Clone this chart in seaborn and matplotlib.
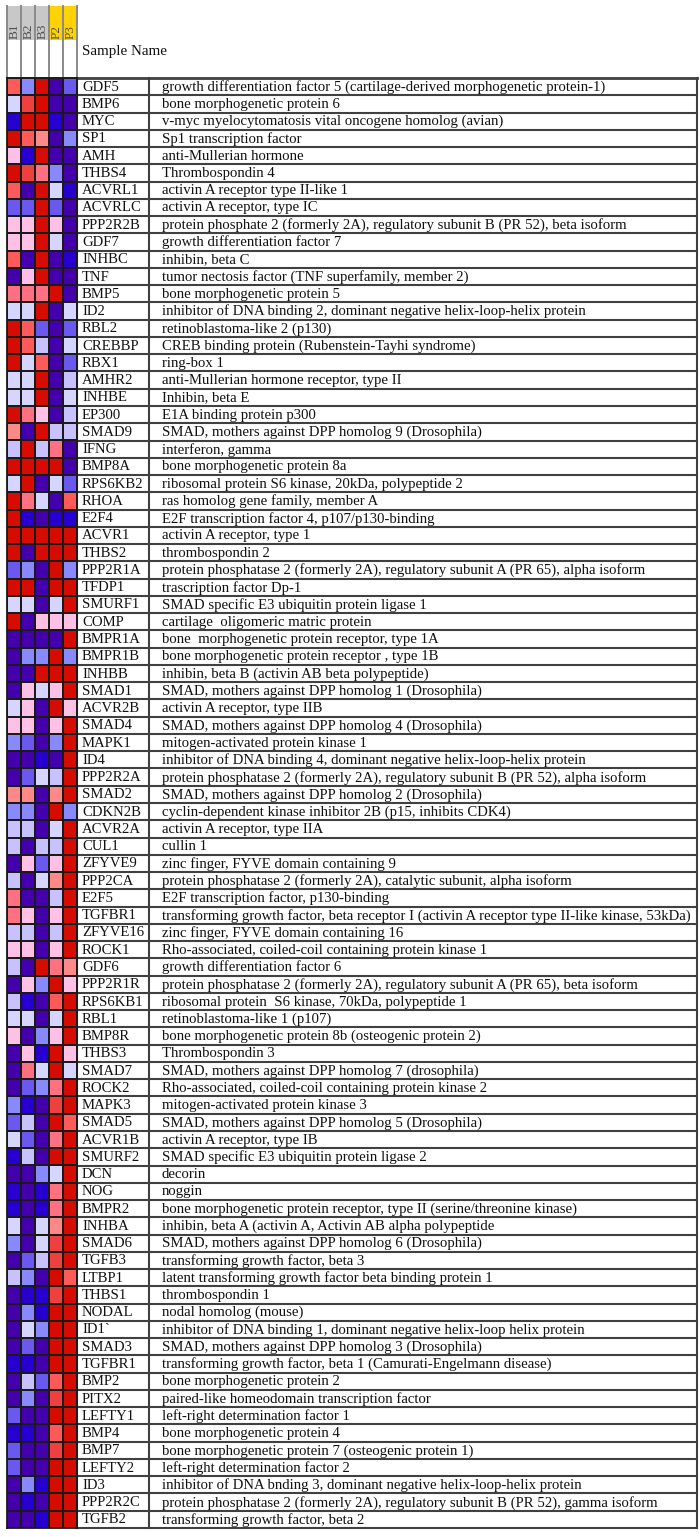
import numpy as np
import pandas as pd
import matplotlib
matplotlib.use("Agg")
import matplotlib.pyplot as plt
import seaborn as sns
from matplotlib.colors import ListedColormap
from matplotlib.patches import Rectangle

genes = ["GDF5", "BMP6", "MYC", "SP1", "AMH", "THBS4", "ACVRL1", "ACVRLC", "PPP2R2B", "GDF7",
         "INHBC", "TNF", "BMP5", "ID2", "RBL2", "CREBBP", "RBX1", "AMHR2", "INHBE", "EP300",
         "SMAD9", "IFNG", "BMP8A", "RPS6KB2", "RHOA", "E2F4", "ACVR1", "THBS2", "PPP2R1A", "TFDP1",
         "SMURF1", "COMP", "BMPR1A", "BMPR1B", "INHBB", "SMAD1", "ACVR2B", "SMAD4", "MAPK1", "ID4",
         "PPP2R2A", "SMAD2", "CDKN2B", "ACVR2A", "CUL1", "ZFYVE9", "PPP2CA", "E2F5", "TGFBR1", "ZFYVE16",
         "ROCK1", "GDF6", "PPP2R1R", "RPS6KB1", "RBL1", "BMP8R", "THBS3", "SMAD7", "ROCK2", "MAPK3",
         "SMAD5", "ACVR1B", "SMURF2", "DCN", "NOG", "BMPR2", "INHBA", "SMAD6", "TGFB3", "LTBP1",
         "THBS1", "NODAL", "ID1`", "SMAD3", "TGFBR1", "BMP2", "PITX2", "LEFTY1", "BMP4", "BMP7",
         "LEFTY2", "ID3", "PPP2R2C", "TGFB2"]

descriptions = [
    "growth differentiation factor 5 (cartilage-derived morphogenetic protein-1)",
    "bone morphogenetic protein 6",
    "v-myc myelocytomatosis vital oncogene homolog (avian)",
    "Sp1 transcription factor",
    "anti-Mullerian hormone",
    "Thrombospondin 4",
    "activin A receptor type II-like 1",
    "activin A receptor, type IC",
    "protein phosphate 2 (formerly 2A), regulatory subunit B (PR 52), beta isoform",
    "growth differentiation factor 7",
    "inhibin, beta C",
    "tumor nectosis factor (TNF superfamily, member 2)",
    "bone morphogenetic protein 5",
    "inhibitor of DNA binding 2, dominant negative helix-loop-helix protein",
    "retinoblastoma-like 2 (p130)",
    "CREB binding protein (Rubenstein-Tayhi syndrome)",
    "ring-box 1",
    "anti-Mullerian hormone receptor, type II",
    "Inhibin, beta E",
    "E1A binding protein p300",
    "SMAD, mothers against DPP homolog 9 (Drosophila)",
    "interferon, gamma",
    "bone morphogenetic protein 8a",
    "ribosomal protein S6 kinase, 20kDa, polypeptide 2",
    "ras homolog gene family, member A",
    "E2F transcription factor 4, p107/p130-binding",
    "activin A receptor, type 1",
    "thrombospondin 2",
    "protein phosphatase 2 (formerly 2A), regulatory subunit A (PR 65), alpha isoform",
    "trascription factor Dp-1",
    "SMAD specific E3 ubiquitin protein ligase 1",
    "cartilage  oligomeric matric protein",
    "bone  morphogenetic protein receptor, type 1A",
    "bone morphogenetic protein receptor , type 1B",
    "inhibin, beta B (activin AB beta polypeptide)",
    "SMAD, mothers against DPP homolog 1 (Drosophila)",
    "activin A receptor, type IIB",
    "SMAD, mothers against DPP homolog 4 (Drosophila)",
    "mitogen-activated protein kinase 1",
    "inhibitor of DNA binding 4, dominant negative helix-loop-helix protein",
    "protein phosphatase 2 (formerly 2A), regulatory subunit B (PR 52), alpha isoform",
    "SMAD, mothers against DPP homolog 2 (Drosophila)",
    "cyclin-dependent kinase inhibitor 2B (p15, inhibits CDK4)",
    "activin A receptor, type IIA",
    "cullin 1",
    "zinc finger, FYVE domain containing 9",
    "protein phosphatase 2 (formerly 2A), catalytic subunit, alpha isoform",
    "E2F transcription factor, p130-binding",
    "transforming growth factor, beta receptor I (activin A receptor type II-like kinase, 53kDa)",
    "zinc finger, FYVE domain containing 16",
    "Rho-associated, coiled-coil containing protein kinase 1",
    "growth differentiation factor 6",
    "protein phosphatase 2 (formerly 2A), regulatory subunit A (PR 65), beta isoform",
    "ribosomal protein  S6 kinase, 70kDa, polypeptide 1",
    "retinoblastoma-like 1 (p107)",
    "bone morphogenetic protein 8b (osteogenic protein 2)",
    "Thrombospondin 3",
    "SMAD, mothers against DPP homolog 7 (drosophila)",
    "Rho-associated, coiled-coil containing protein kinase 2",
    "mitogen-activated protein kinase 3",
    "SMAD, mothers against DPP homolog 5 (Drosophila)",
    "activin A receptor, type IB",
    "SMAD specific E3 ubiquitin protein ligase 2",
    "decorin",
    "noggin",
    "bone morphogenetic protein receptor, type II (serine/threonine kinase)",
    "inhibin, beta A (activin A, Activin AB alpha polypeptide",
    "SMAD, mothers against DPP homolog 6 (Drosophila)",
    "transforming growth factor, beta 3",
    "latent transforming growth factor beta binding protein 1",
    "thrombospondin 1",
    "nodal homolog (mouse)",
    "inhibitor of DNA binding 1, dominant negative helix-loop helix protein",
    "SMAD, mothers against DPP homolog 3 (Drosophila)",
    "transforming growth factor, beta 1 (Camurati-Engelmann disease)",
    "bone morphogenetic protein 2",
    "paired-like homeodomain transcription factor",
    "left-right determination factor 1",
    "bone morphogenetic protein 4",
    "bone morphogenetic protein 7 (osteogenic protein 1)",
    "left-right determination factor 2",
    "inhibitor of DNA bnding 3, dominant negative helix-loop-helix protein",
    "protein phosphatase 2 (formerly 2A), regulatory subunit B (PR 52), gamma isoform",
    "transforming growth factor, beta 2",
]

# colour levels 0 (lowest, indigo) .. 11 (highest, dark red)
B1 = [9, 5, 1, 11, 6, 11, 9, 2, 6, 6, 9, 0, 8, 5, 11, 11, 11, 5, 5, 11,
      7, 4, 11, 5, 11, 11, 11, 11, 2, 11, 5, 11, 0, 0, 0, 0, 5, 6, 3, 0,
      0, 7, 3, 4, 4, 0, 4, 8, 8, 4, 6, 4, 0, 4, 5, 6, 0, 0, 0, 3,
      2, 5, 1, 0, 1, 1, 5, 3, 0, 4, 0, 0, 0, 0, 1, 0, 0, 2, 1, 2,
      2, 0, 0, 0]
B2 = [3, 10, 11, 9, 1, 10, 0, 2, 6, 6, 0, 6, 8, 5, 9, 9, 5, 5, 5, 8,
      0, 11, 11, 11, 8, 1, 11, 0, 3, 11, 5, 0, 0, 3, 0, 6, 6, 6, 2, 0,
      2, 7, 3, 4, 0, 6, 0, 0, 6, 4, 6, 0, 6, 1, 5, 0, 6, 8, 2, 1,
      4, 2, 4, 0, 0, 0, 0, 0, 2, 3, 1, 3, 5, 2, 1, 4, 3, 0, 1, 0,
      0, 3, 1, 0]
B3 = [11, 11, 11, 7, 11, 8, 11, 11, 11, 11, 11, 11, 8, 11, 2, 4, 9, 11, 11, 6,
      11, 4, 11, 0, 5, 0, 11, 11, 0, 0, 0, 6, 0, 3, 11, 5, 0, 0, 0, 1,
      5, 0, 0, 0, 4, 2, 5, 0, 0, 0, 0, 11, 3, 0, 0, 3, 1, 5, 3, 0,
      0, 0, 0, 3, 1, 1, 5, 5, 4, 0, 1, 1, 3, 0, 0, 2, 0, 0, 0, 0,
      0, 1, 0, 1]
P2 = [0, 0, 1, 0, 0, 3, 5, 2, 6, 5, 0, 0, 11, 0, 0, 0, 0, 0, 0, 0,
      4, 8, 11, 5, 0, 1, 11, 11, 11, 11, 5, 6, 0, 11, 11, 6, 11, 6, 3, 0,
      4, 7, 11, 5, 4, 6, 7, 4, 6, 4, 6, 8, 11, 9, 5, 6, 11, 11, 8, 10,
      11, 8, 11, 5, 8, 8, 7, 10, 10, 11, 10, 11, 11, 11, 11, 9, 10, 11, 9, 10,
      11, 11, 11, 11]
P3 = [2, 0, 0, 3, 0, 0, 1, 0, 0, 0, 1, 0, 0, 5, 2, 5, 2, 4, 5, 4,
      4, 0, 0, 2, 9, 1, 11, 11, 3, 11, 11, 6, 11, 3, 11, 11, 6, 11, 11, 11,
      11, 11, 3, 11, 11, 11, 11, 11, 11, 11, 11, 7, 6, 11, 11, 11, 6, 5, 11, 11,
      9, 11, 11, 11, 11, 11, 11, 11, 11, 9, 11, 11, 11, 11, 11, 11, 11, 11, 11, 11,
      11, 11, 11, 11]

samples = ["B1", "B2", "B3", "P2", "P3"]
sample_group_colors = ["#c8c8c8", "#c8c8c8", "#c8c8c8", "#ffd200", "#ffd200"]

palette = ["#4500AD", "#2700D1", "#6B58EF", "#8888FF", "#C7C1FF", "#D5D5FF",
           "#FFC0E5", "#FF8989", "#FF7080", "#FF5A5A", "#EF4040", "#D60C00"]

W, H = 700, 1537
fig = plt.figure(figsize=(W / 100, H / 100), dpi=100)

top, bottom = 78, 1528
hm_l, hm_r = 7, 77
name_r, tab_r = 149, 697
n = len(genes)
rh = (bottom - top) / n
cw = (hm_r - hm_l) / len(samples)

# overlay axes in pixel coordinates
ax = fig.add_axes([0, 0, 1, 1])
ax.set_xlim(0, W)
ax.set_ylim(H, 0)
ax.axis("off")

# heatmap
ax_hm = fig.add_axes([hm_l / W, 1 - bottom / H, (hm_r - hm_l) / W, (bottom - top) / H])
df = pd.DataFrame({s: v for s, v in zip(samples, [B1, B2, B3, P2, P3])}, index=range(n))
sns.heatmap(df, ax=ax_hm, cmap=ListedColormap(palette), vmin=-0.5, vmax=11.5,
            cbar=False, linewidths=1.1, linecolor="#1a1a1a",
            xticklabels=False, yticklabels=False)
ax_hm.set_xlabel("")
ax_hm.set_ylabel("")
for sp in ax_hm.spines.values():
    sp.set_visible(True)
    sp.set_color("#1a1a1a")
    sp.set_linewidth(1.3)

font = "Liberation Serif"

# header sample labels
for i, (s, c) in enumerate(zip(samples, sample_group_colors)):
    x0 = hm_l + i * cw
    ax.add_patch(Rectangle((x0, 6), cw, 34, facecolor=c, edgecolor="none", zorder=1))
    ax.text(x0 + cw / 2 + 0.5, 39, s, rotation=90, ha="center", va="bottom",
            fontsize=9.5, color="#505050", family=font, zorder=3)
for i in range(len(samples) + 1):
    x0 = hm_l + i * cw
    ax.plot([x0, x0], [6, top], color="#8a8a8a", lw=1.4, zorder=2)

# fit description font to column width
probe = ax.text(0, 0, max(descriptions, key=len), fontsize=10, family=font)
fig.canvas.draw()
wpx = probe.get_window_extent(fig.canvas.get_renderer()).width
probe.remove()
fs = 10 * 526 / wpx

ax.text(82, 52, "Sample Name", ha="left", va="center", fontsize=fs * 1.02, family=font, color="#111111")

# table lines
line_c = "#404040"
ax.plot([hm_l, tab_r], [top, top], color=line_c, lw=2.0, zorder=4)
for i in range(1, n + 1):
    y = top + i * rh
    ax.plot([hm_r, tab_r], [y, y], color=line_c, lw=1.5, zorder=4)
for x in [hm_r, name_r, tab_r]:
    ax.plot([x, x], [top, bottom], color=line_c, lw=1.5, zorder=4)

for i, (g, d) in enumerate(zip(genes, descriptions)):
    y = top + (i + 0.5) * rh
    ax.text(82, y + 0.5, g, ha="left", va="center", fontsize=fs, family=font, color="#111111")
    ax.text(162, y + 0.5, d, ha="left", va="center", fontsize=fs, family=font, color="#111111")

fig.savefig("out.png", dpi=100)
